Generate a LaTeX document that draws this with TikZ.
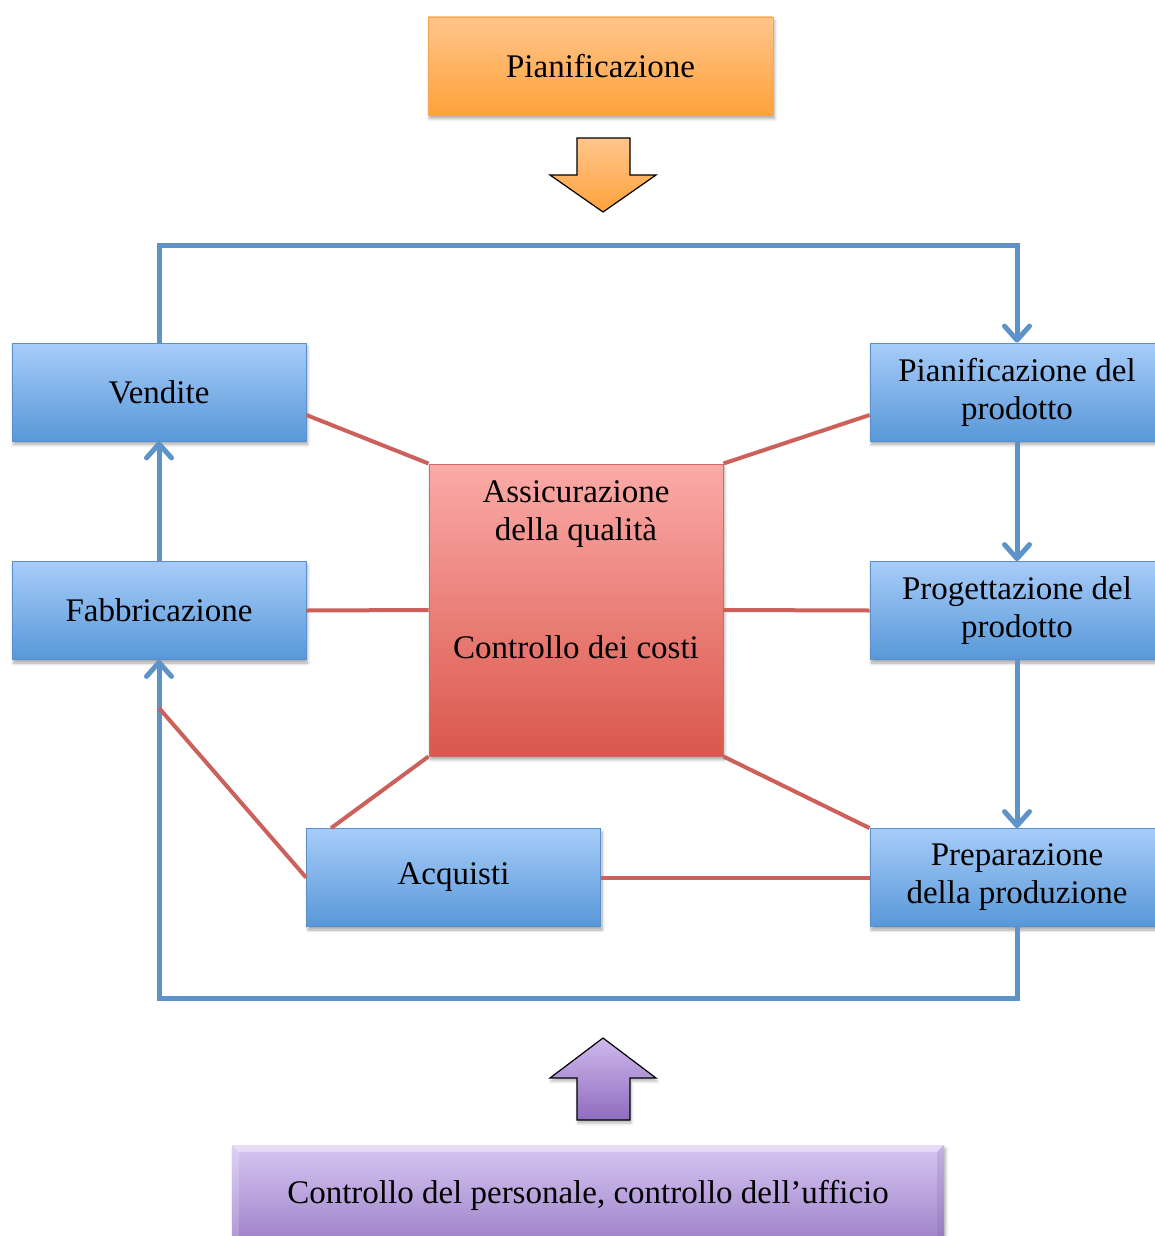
\documentclass[tikz,border=0pt]{standalone}
\usepackage{fontspec}
\setmainfont{Liberation Serif}
\usetikzlibrary{arrows.meta,shadows.blur,calc}

\definecolor{bluetop}{HTML}{A7CCF9}
\definecolor{bluebot}{HTML}{5898D8}
\definecolor{blueedge}{HTML}{5B8FCB}
\definecolor{flow}{HTML}{5E93CA}
\definecolor{link}{HTML}{CB615A}
\definecolor{redtop}{HTML}{FBAAA7}
\definecolor{redbot}{HTML}{DA574C}
\definecolor{rededge}{HTML}{D06A64}
\definecolor{orangetop}{HTML}{FFC58C}
\definecolor{orangebot}{HTML}{FFA23A}
\definecolor{orangeedge}{HTML}{F7A552}
\definecolor{purpletop}{HTML}{D8C6F2}
\definecolor{purplebot}{HTML}{9C80C8}
\definecolor{purplearrtop}{HTML}{CFB9EC}
\definecolor{purplearrbot}{HTML}{8E6CBF}

\begin{document}
\begin{tikzpicture}[x=1pt,y=-1pt,
  label font/.style={font=\fontsize{33}{38}\selectfont},
  shade/.style={blur shadow={shadow xshift=1.5pt,shadow yshift=-3.5pt,
    shadow blur radius=3pt,shadow blur steps=6,shadow opacity=35}},
  unit/.style={rectangle,minimum width=294pt,minimum height=98pt,inner sep=0pt,
    align=center,label font,top color=bluetop,bottom color=bluebot,
    draw=blueedge,line width=0.8pt,shade},
  flowline/.style={draw=flow,line width=5pt},
  flowarrow/.style={flowline,-{Straight Barb[round,length=14pt,width=25pt]}},
  linkline/.style={draw=link,line width=4pt},
  bigarrow/.style={draw=black,line width=1.2pt,line join=miter},
]
\useasboundingbox (0,0) rectangle (1155,1236);
\clip (0,0) rectangle (1155,1236);

% planning box and arrow
\node[unit,minimum width=345pt,top color=orangetop,bottom color=orangebot,draw=orangeedge]
  (plan) at (600.5,66) {Pianificazione};
\path[bigarrow,top color=orangetop,bottom color=orangebot]
  (577,138) -- (630,138) -- (630,175) -- (656,175) -- (603,212)
  -- (550,175) -- (577,175) -- cycle;

% functional units
\node[unit] (vend) at (159,392) {Vendite};
\node[unit] (pp)   at (1017,392) {Pianificazione del\\prodotto};
\node[unit] (fabb) at (159,610.5) {Fabbricazione};
\node[unit] (prog) at (1017,610.5) {Progettazione del\\prodotto};
\node[unit] (acq)  at (453.5,877.5) {Acquisti};
\node[unit] (prep) at (1017,877.5) {Preparazione\\della produzione};

% central box
\node[rectangle,minimum width=294pt,minimum height=292pt,inner sep=0pt,
  top color=redtop,bottom color=redbot,draw=rededge,line width=1pt,shade]
  (qual) at (576,610) {};
\node[label font,align=center] (qa) at (576,514) {Assicurazione\\della qualità};
\node[label font] (cc) at (576,647) {Controllo dei costi};

% main flow loop
\coordinate (tl) at (159,245);
\coordinate (tr) at (1017,245);
\coordinate (bl) at (159,998);
\coordinate (br) at (1017,998);
\coordinate (fb) at (159,708);
\draw[flowarrow] (vend.north) -- (tl) -- (tr) -- (pp.north);
\draw[flowarrow] (pp.south) -- (prog.north);
\draw[flowarrow] (prog.south) -- (prep.north);
\draw[flowarrow] (prep.south) -- (br) -- (bl) -- (fabb.south);
\draw[flowarrow] (fabb.north) -- (vend.south);

% links to the central box
\draw[linkline] ([yshift=-23pt]vend.east) -- (qual.north west);
\draw[linkline] ([yshift=-23pt]pp.west) -- (qual.north east);
\draw[linkline] (fabb.east) -- (qual.west);
\draw[linkline] (prog.west) -- (qual.east);
\draw[linkline] (qual.south west) -- ([xshift=25pt]acq.north west);
\draw[linkline] (qual.south east) -- (prep.north west);
\draw[linkline] (acq.east) -- (prep.west);
\draw[linkline] (acq.west) -- (fb);

% staff control arrow and box
\path[bigarrow,top color=purplearrtop,bottom color=purplearrbot,
  blur shadow={shadow xshift=1pt,shadow yshift=-3pt,shadow blur radius=3pt,shadow opacity=30}]
  (603,1038) -- (656,1078) -- (630,1078) -- (630,1120) -- (577,1120)
  -- (577,1078) -- (550,1078) -- cycle;
\node[rectangle,minimum width=712pt,minimum height=100pt,inner sep=0pt,
  top color=purpletop,bottom color=purplebot,label font,shade]
  (pers) at (588,1195) {Controllo del personale, controllo dell’ufficio};
\fill[white,opacity=0.4] (pers.north west) -- (pers.north east)
  -- ($(pers.north east)+(-7,7)$) -- ($(pers.north west)+(7,7)$) -- cycle;
\fill[white,opacity=0.18] (pers.north west) -- ($(pers.north west)+(7,7)$)
  -- ($(pers.south west)+(7,-7)$) -- (pers.south west) -- cycle;
\fill[purplebot!70!black,opacity=0.18] (pers.north east) -- ($(pers.north east)+(-7,7)$)
  -- ($(pers.south east)+(-7,-7)$) -- (pers.south east) -- cycle;
\end{tikzpicture}
\end{document}
